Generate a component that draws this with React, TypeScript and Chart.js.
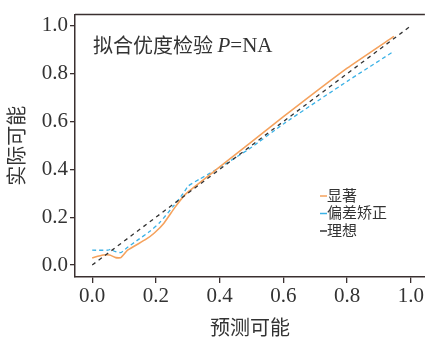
import React, { useEffect, useRef } from "react";
import { Chart, registerables } from "chart.js";

Chart.register(...registerables);

// 显著 (apparent) calibration curve
const sigX = [0, 0.034, 0.055, 0.074, 0.09, 0.111, 0.168, 0.195, 0.225, 0.259, 0.285, 0.3, 0.4, 0.6, 0.8, 0.947];
const sigY = [0.03, 0.042, 0.042, 0.031, 0.031, 0.062, 0.107, 0.134, 0.175, 0.24, 0.285, 0.305, 0.41, 0.62, 0.823, 0.956];
// 偏差矫正 (bias-corrected) calibration curve
const corX = [0, 0.05, 0.058, 0.071, 0.09, 0.108, 0.139, 0.181, 0.212, 0.254, 0.285, 0.301, 0.338, 0.38, 0.49, 0.6, 0.8, 0.947];
const corY = [0.062, 0.062, 0.066, 0.057, 0.052, 0.071, 0.101, 0.141, 0.178, 0.245, 0.298, 0.33, 0.36, 0.392, 0.483, 0.59, 0.768, 0.894];
// 理想 (ideal) line
const idealX = [0, 1];
const idealY = [0, 1];

const seriesLabels = ["显著", "偏差矫正", "理想"];
const seriesColors = ["#f5a25d", "#3cb2e6", "#333333"];
const tickValues = [0, 0.2, 0.4, 0.6, 0.8, 1.0];
const xTitle = "预测可能";
const yTitle = "实际可能";
const annoCJK = "拟合优度检验 ";
const annoP = "P";
const annoRest = "=NA";

const AXIS = "#3a3030";
const SERIF = "'Liberation Serif', 'Times New Roman', serif";
const CJK = "'Noto Sans CJK SC', sans-serif";

const pts = (xs: number[], ys: number[]) => xs.map((x, i) => ({ x, y: ys[i] }));

export default function App() {
  const ref = useRef<HTMLCanvasElement | null>(null);

  useEffect(() => {
    document.body.style.margin = "0";
    const canvas = ref.current;
    if (!canvas) return;

    const decor = {
      id: "decor",
      afterDraw(chart: any) {
        const { ctx, chartArea } = chart;
        ctx.save();
        // top frame line
        ctx.strokeStyle = AXIS;
        ctx.lineWidth = 1.5;
        ctx.beginPath();
        ctx.moveTo(chartArea.left, chartArea.top);
        ctx.lineTo(chartArea.right, chartArea.top);
        ctx.stroke();

        // annotation
        ctx.fillStyle = "#333";
        ctx.textBaseline = "middle";
        ctx.textAlign = "left";
        let x = 93;
        const y = 45;
        ctx.font = `20px ${CJK}`;
        ctx.fillText(annoCJK, x, y);
        x += ctx.measureText(annoCJK).width;
        ctx.font = `italic 21px ${SERIF}`;
        ctx.fillText(annoP, x, y + 1);
        x += ctx.measureText(annoP).width;
        ctx.font = `21px ${SERIF}`;
        ctx.fillText(annoRest, x, y + 1);

        // legend
        ctx.font = `15px ${CJK}`;
        seriesLabels.forEach((lab, i) => {
          const ly = 195 + i * 17.5;
          ctx.strokeStyle = seriesColors[i];
          ctx.lineWidth = 1.5;
          ctx.setLineDash([]);
          ctx.beginPath();
          ctx.moveTo(320, ly + 1);
          ctx.lineTo(327, ly + 1);
          ctx.stroke();
          ctx.fillStyle = "#333";
          ctx.fillText(lab, 327, ly);
        });
        ctx.restore();
      },
    };

    const fixTicks = (scale: any) => {
      scale.ticks = tickValues.map((v) => ({ value: v }));
    };

    const chart = new Chart(canvas, {
      type: "line",
      data: {
        datasets: [
          {
            label: seriesLabels[0],
            data: pts(sigX, sigY),
            borderColor: seriesColors[0],
            borderWidth: 1.6,
            pointRadius: 0,
            tension: 0.15,
            order: 1,
          },
          {
            label: seriesLabels[1],
            data: pts(corX, corY),
            borderColor: seriesColors[1],
            borderWidth: 1.3,
            borderDash: [4, 3],
            pointRadius: 0,
            tension: 0.15,
            order: 2,
          },
          {
            label: seriesLabels[2],
            data: pts(idealX, idealY),
            borderColor: seriesColors[2],
            borderWidth: 1.3,
            borderDash: [4, 4],
            pointRadius: 0,
            order: 0,
          },
        ],
      },
      options: {
        responsive: false,
        animation: false,
        layout: { padding: { top: 12, right: 0, left: 0, bottom: 0 } },
        plugins: { legend: { display: false }, tooltip: { enabled: false } },
        scales: {
          x: {
            type: "linear",
            min: -0.054,
            max: 1.044,
            afterBuildTicks: fixTicks,
            afterFit: (s: any) => {
              s.height = 64;
            },
            grid: { display: true, drawOnChartArea: false, tickLength: 6, color: AXIS, lineWidth: 1.3 },
            border: { display: true, color: AXIS, width: 1.5 },
            ticks: {
              font: { family: SERIF, size: 21 },
              color: "#333",
              padding: 1,
              maxRotation: 0,
              callback: (v: any) => Number(v).toFixed(1),
            },
            title: {
              display: true,
              text: xTitle,
              font: { family: CJK, size: 20 },
              color: "#333",
              padding: { top: 0, bottom: 2 },
            },
          },
          y: {
            type: "linear",
            min: -0.05,
            max: 1.047,
            afterBuildTicks: fixTicks,
            afterFit: (s: any) => {
              s.width = 75;
            },
            grid: { display: true, drawOnChartArea: false, tickLength: 5, color: AXIS, lineWidth: 1.3 },
            border: { display: true, color: AXIS, width: 1.5 },
            ticks: {
              font: { family: SERIF, size: 21 },
              color: "#333",
              padding: 2,
              callback: (v: any) => Number(v).toFixed(1),
            },
            title: {
              display: true,
              text: yTitle,
              font: { family: CJK, size: 20 },
              color: "#333",
              padding: { top: 4, bottom: 0 },
            },
          },
        },
      },
      plugins: [decor],
    } as any);

    return () => chart.destroy();
  }, []);

  return (
    <div style={{ position: "absolute", left: 0, top: 0, width: 425, height: 341, background: "#fff" }}>
      <canvas ref={ref} width={425} height={341} style={{ display: "block" }} />
    </div>
  );
}
